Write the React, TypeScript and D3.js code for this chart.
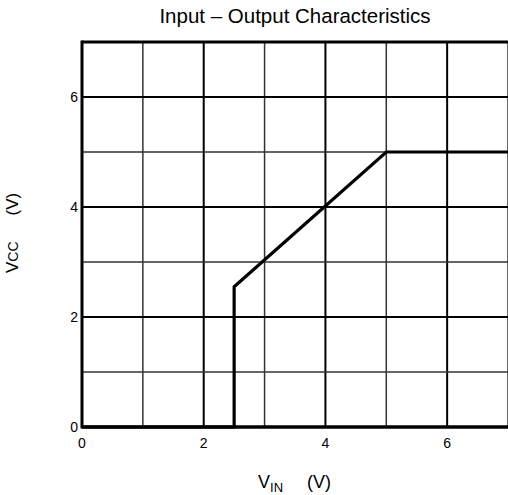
import React from "react";
import * as d3 from "d3";

const xTicks = [0, 2, 4, 6];
const yTicks = [0, 2, 4, 6];
const gridValues = [1, 2, 3, 4, 5, 6, 7];
const curveX = [0, 2.5, 2.5, 5, 7];
const curveY = [0, 0, 2.55, 5, 5];
const title = "Input – Output Characteristics";

export default function App() {
  const W = 508, H = 495;
  const x = d3.scaleLinear().domain([0, 7]).range([82, 508]);
  const y = d3.scaleLinear().domain([0, 7]).range([427, 42]);
  const pts: [number, number][] = curveX.map((v, i) => [v, curveY[i]]);
  const line = d3.line<[number, number]>().x(d => x(d[0])).y(d => y(d[1]));
  const font = "Liberation Sans, Arial, sans-serif";
  return (
    <svg width={W} height={H} style={{ position: "absolute", left: 0, top: 0, background: "#fff" }} fontFamily={font}>
      <rect x={0} y={0} width={W} height={H} fill="#fff" />
      {gridValues.map(v => (
        <line key={"v" + v} x1={x(v)} x2={x(v)} y1={y(0)} y2={y(7)}
          stroke={v % 2 === 0 ? "#000" : "#333"} strokeWidth={v % 2 === 0 ? 2 : 1.5} />
      ))}
      {gridValues.map(v => (
        <line key={"h" + v} x1={x(0)} x2={x(7)} y1={y(v)} y2={y(v)}
          stroke={v % 2 === 0 ? "#000" : "#333"} strokeWidth={v % 2 === 0 ? 2 : 1.5} />
      ))}
      <line x1={x(0)} x2={x(0)} y1={y(0) + 1.5} y2={y(7) - 1.5} stroke="#000" strokeWidth={3} />
      <line x1={x(0)} x2={x(7)} y1={y(7)} y2={y(7)} stroke="#000" strokeWidth={3} />
      <line x1={x(0)} x2={x(7)} y1={y(0)} y2={y(0)} stroke="#000" strokeWidth={3.5} />
      <path d={line(pts) || ""} fill="none" stroke="#000" strokeWidth={3.2} strokeLinejoin="miter" />
      {xTicks.map(t => (
        <text key={"xt" + t} x={x(t)} y={448} fontSize={14} textAnchor="middle">{t}</text>
      ))}
      {yTicks.map(t => (
        <text key={"yt" + t} x={78} y={y(t) + 5} fontSize={14} textAnchor="end">{t}</text>
      ))}
      <text x={295} y={23} fontSize={20.5} textAnchor="middle">{title}</text>
      <text x={258} y={488} fontSize={18}>
        V<tspan fontSize={13} dy={4}>IN</tspan><tspan dy={-4} dx={24}>(V)</tspan>
      </text>
      <text transform={`translate(18,273) rotate(-90)`} fontSize={17}>
        V<tspan fontSize={14}>CC</tspan><tspan dx={26}>(V)</tspan>
      </text>
    </svg>
  );
}
